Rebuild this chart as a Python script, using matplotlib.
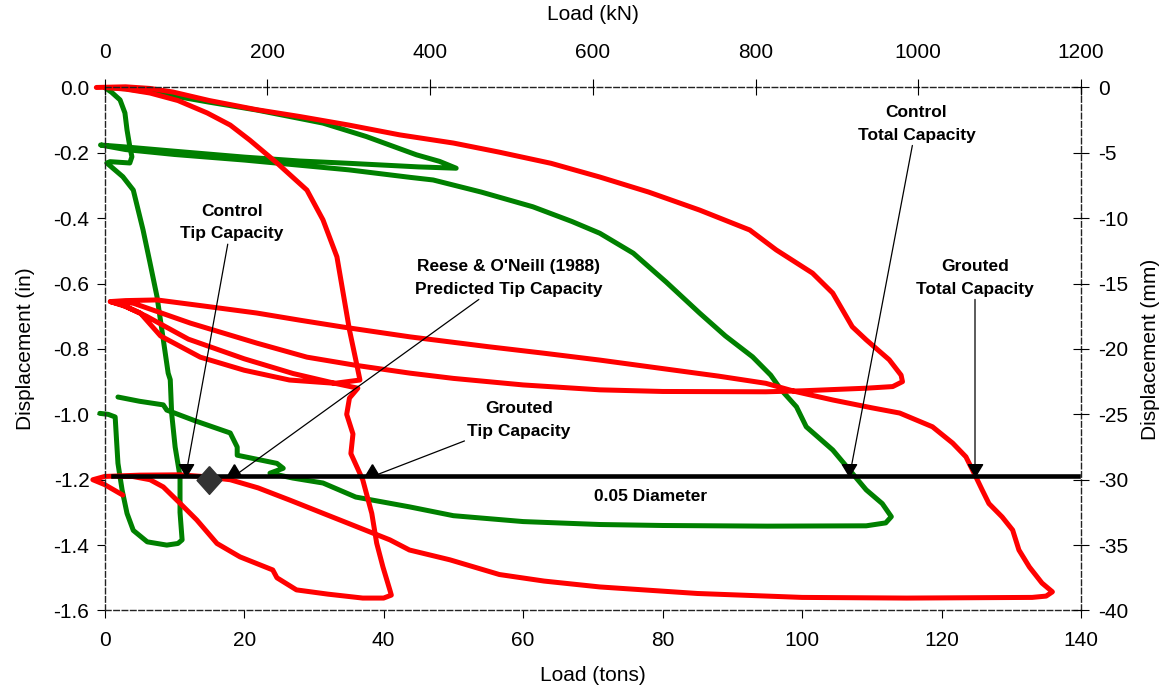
import matplotlib
matplotlib.use("Agg")
import matplotlib.pyplot as plt
from matplotlib.path import Path
from matplotlib.ticker import FormatStrFormatter

plt.rcParams['font.family'] = ['Liberation Sans', 'DejaVu Sans']
plt.rcParams['axes.unicode_minus'] = False

# control shaft, total (top) load vs displacement
ctl_total_load = [0, 3, 7.5, 15, 21.8, 28, 31.3, 37.5, 44.7, 48, 50.4,
                  45, 35, 28, 20, 10, 3, -0.6,
                  3, 10, 20, 28, 35, 43.8, 47.1, 54, 61.4, 67, 71, 75.8, 80.5, 85.3, 89, 92.9,
                  95.5, 97, 99.2, 100.6, 104.4, 106.8, 109.2, 111.5, 112.8, 112, 109.2,
                  95, 80, 71, 60, 50, 43.7, 36, 31.3, 27, 23.7, 25.6, 24.7, 19, 19, 18,
                  13, 8.9, 8.4, 5, 1.9]
ctl_total_disp = [0, -0.004, -0.017, -0.045, -0.069, -0.095, -0.109, -0.15, -0.206, -0.226, -0.247,
                  -0.243, -0.232, -0.225, -0.213, -0.195, -0.182, -0.176,
                  -0.19, -0.205, -0.222, -0.238, -0.252, -0.275, -0.283, -0.32, -0.365, -0.41,
                  -0.446, -0.507, -0.595, -0.69, -0.76, -0.824,
                  -0.88, -0.925, -0.977, -1.038, -1.109, -1.17, -1.231, -1.273, -1.313, -1.332, -1.341,
                  -1.342, -1.34, -1.337, -1.328, -1.31, -1.283, -1.253, -1.21, -1.195, -1.18, -1.165,
                  -1.15, -1.125, -1.1, -1.057, -1.02, -0.987, -0.971, -0.96, -0.947]

# control shaft, tip load vs displacement
ctl_tip_load = [0, 1.0, 2.2, 2.9, 3.2, 3.6, 3.9, 3.6, 0.76, 0.3, 2.6, 4.1, 5.5, 6.5, 7.5,
                8.2, 9.1, 9.4, 9.6, 10.1, 10.8, 10.8, 11.1, 10.5, 8.9, 6.1, 4.1, 3.2, 2.5,
                1.9, 1.7, 1.5, 0.5, -0.7]
ctl_tip_disp = [0, -0.015, -0.038, -0.078, -0.13, -0.181, -0.212, -0.231, -0.227, -0.231,
                -0.273, -0.314, -0.436, -0.537, -0.64, -0.742, -0.874, -0.894, -0.997, -1.1,
                -1.19, -1.3, -1.384, -1.395, -1.4, -1.39, -1.355, -1.303, -1.232, -1.15, -1.08,
                -1.008, -1.0, -0.997]

# grouted shaft, total (top) load vs displacement
grt_total_load = [-1.2, 3, 6.5, 9.8, 15, 21.8, 28, 35, 42.3, 50, 56.6, 64, 71, 78, 85.3, 92.5,
                  96.3, 101.5, 104.4, 107.2, 109.2, 112.5, 114.2, 114.4,
                  113, 109.2, 100, 94.8, 80, 71, 60, 50, 43.8, 36, 29, 21.8, 12.3, 4.1, 0.8,
                  3, 7.5, 14, 21.8, 28, 34.2, 43.8, 55, 63, 71, 80, 88, 94.8, 99, 104.4, 110,
                  114, 118.7, 121.6, 123.5, 124.9, 125.8, 126.8, 128.7, 130.2, 131.1, 132.6,
                  134.4, 135.9, 135, 133, 115, 100, 85, 71, 63, 56.6, 49.5, 43.7, 40.9, 33.7,
                  26.5, 22, 18, 14, 10.8, 5, 0, -1.7, 0, 2.6]
grt_total_disp = [0, 0.002, -0.003, -0.014, -0.04, -0.068, -0.089, -0.115, -0.145, -0.17, -0.198,
                  -0.232, -0.274, -0.32, -0.375, -0.436, -0.497, -0.568, -0.629, -0.732, -0.772,
                  -0.833, -0.88, -0.9,
                  -0.915, -0.92, -0.928, -0.931, -0.93, -0.925, -0.91, -0.89, -0.874, -0.85,
                  -0.825, -0.782, -0.721, -0.66, -0.655,
                  -0.652, -0.65, -0.668, -0.69, -0.712, -0.733, -0.763, -0.793, -0.813, -0.834,
                  -0.86, -0.883, -0.905, -0.93, -0.956, -0.98, -0.996, -1.038, -1.088, -1.13,
                  -1.19, -1.23, -1.273, -1.314, -1.354, -1.415, -1.467, -1.516, -1.543, -1.556,
                  -1.56, -1.562, -1.56, -1.548, -1.528, -1.51, -1.49, -1.445, -1.415, -1.384,
                  -1.323, -1.262, -1.225, -1.2, -1.19, -1.185, -1.186, -1.19, -1.2, -1.215, -1.247]

# grouted shaft, tip load vs displacement
grt_tip_load = [0, 3, 6.5, 10.5, 14.7, 18, 20.8, 24.7, 29, 31.3, 33.3, 34.2, 35.1, 36.1, 36.6,
                33, 26.5, 20, 13.7, 8, 5.1, 2.5, 0.8,
                3, 6, 12, 20, 27, 33, 36.3, 35.1, 34.7, 35.6, 35.3, 37, 38.3, 39, 39.9, 40.9,
                41.1, 40, 37, 32, 27.5, 24.7, 24.1, 19.4, 16.1, 13.2, 10.8, 8.4, 6.5, 4, 2]
grt_tip_disp = [0, -0.005, -0.017, -0.04, -0.078, -0.115, -0.161, -0.231, -0.314, -0.405, -0.518,
                -0.63, -0.742, -0.843, -0.895,
                -0.905, -0.895, -0.865, -0.825, -0.76, -0.69, -0.665, -0.655,
                -0.67, -0.7, -0.77, -0.83, -0.875, -0.905, -0.92, -0.95, -1.0, -1.06, -1.12,
                -1.2, -1.303, -1.394, -1.467, -1.538, -1.553, -1.562, -1.562, -1.55, -1.537,
                -1.5, -1.476, -1.436, -1.395, -1.323, -1.272, -1.222, -1.2, -1.19, -1.19]

# 0.05 diameter settlement line
diam_load = [1.2, 139.5]
diam_disp = -1.19

# capacities picked off at 0.05 D
cap_names = ["Control\nTip Capacity", "Reese & O'Neill (1988)\nPredicted Tip Capacity",
             "Grouted\nTip Capacity", "Control\nTotal Capacity", "Grouted\nTotal Capacity"]
cap_loads = [11.6, 18.5, 38.4, 106.8, 124.8]
cap_point_down = [True, False, False, True, True]
cap_text_xy = [(18.2, -0.414), (57.9, -0.583), (59.4, -1.017), (116.4, -0.112), (124.8, -0.583)]

reese_diamond = (15.0, -1.2)

fig = plt.figure(figsize=(11.66, 6.92), dpi=100)
ax = fig.add_axes([0.0898, 0.1178, 0.8373, 0.7558])

line_kw = dict(lw=3.6, clip_on=False, solid_joinstyle='round', solid_capstyle='round')
ax.plot(ctl_tip_load, ctl_tip_disp, color='#008000', zorder=2, **line_kw)
ax.plot(ctl_total_load, ctl_total_disp, color='#008000', zorder=2, **line_kw)
ax.plot(grt_tip_load, grt_tip_disp, color='#FF0000', zorder=2.1, **line_kw)
ax.plot(grt_total_load, grt_total_disp, color='#FF0000', zorder=2.1, **line_kw)

ax.plot(diam_load, [diam_disp, diam_disp], color='black', lw=3.3, zorder=3)
ax.text(78.3, -1.2527, "0.05 Diameter", ha='center', va='center', fontsize=12.5,
        fontweight='bold')

tri_down = Path([(0, 0), (-0.6, 1), (0.6, 1), (0, 0)])
tri_up = Path([(0, 1), (-0.6, 0), (0.6, 0), (0, 1)])
for name, x, down, txy in zip(cap_names, cap_loads, cap_point_down, cap_text_xy):
    ax.plot([x], [diam_disp], marker=tri_down if down else tri_up, ms=17, color='black',
            zorder=4, clip_on=False)
    ax.annotate(name, xy=(x, diam_disp), xytext=txy, ha='center', va='center',
                fontsize=12.5, fontweight='bold', linespacing=1.6,
                arrowprops=dict(arrowstyle='-', color='black', lw=0.9, shrinkA=0, shrinkB=0))

diamond = Path([(0, 0.56), (0.5, 0), (0, -0.56), (-0.5, 0), (0, 0.56)])
ax.plot([reese_diamond[0]], [reese_diamond[1]], marker=diamond, ms=20, color='#333333',
        zorder=5)

ax.set_xlim(0, 140)
ax.set_ylim(-1.6, 0)
ax.set_xticks(range(0, 141, 20))
ax.set_yticks([-1.6, -1.4, -1.2, -1.0, -0.8, -0.6, -0.4, -0.2, 0.0])
ax.yaxis.set_major_formatter(FormatStrFormatter('%.1f'))
ax.tick_params(axis='x', direction='out', length=6, pad=9, labelsize=15)
ax.tick_params(axis='y', direction='out', length=6, pad=5, labelsize=15)
ax.set_xlabel("Load (tons)", fontsize=15)
ax.set_ylabel("Displacement (in)", fontsize=15)

ax_top = ax.twiny()
ax_top.set_xlim(0, 1200)
ax_top.set_xticks(range(0, 1201, 200))
ax_top.tick_params(axis='x', direction='inout', length=12, pad=12, labelsize=15)
ax_top.set_xlabel("Load (kN)", fontsize=15)

ax_right = ax.twinx()
ax_right.set_ylim(-40, 0)
ax_right.set_yticks(range(-40, 1, 5))
ax_right.tick_params(axis='y', direction='inout', length=12, pad=6, labelsize=15)
ax_right.set_ylabel("Displacement (mm)", fontsize=15)

for a in (ax_top, ax_right):
    for s in a.spines.values():
        s.set_visible(False)
for s in ax.spines.values():
    s.set_linestyle((0, (4, 2)))
    s.set_linewidth(1.0)
    s.set_color('#222222')

ax.xaxis.set_label_coords(0.5, -0.125)
ax.xaxis.label.set_va('center')
ax.yaxis.set_label_coords(-0.0816, 0.5)
ax.yaxis.label.set_va('center')
ax_top.xaxis.set_label_coords(0.5, 1.1386)
ax_top.xaxis.label.set_va('center')
ax_right.yaxis.set_label_coords(1.0707, 0.5)
ax_right.yaxis.label.set_va('center')

fig.savefig("out.png", dpi=100, facecolor='white')
